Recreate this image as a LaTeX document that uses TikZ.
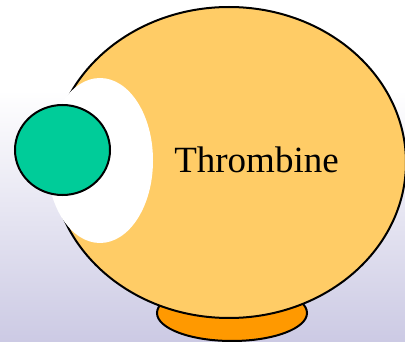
\documentclass[tikz,border=0pt]{standalone}
\usepackage{fontspec}
\setmainfont{Liberation Serif}
\usetikzlibrary{positioning}
\definecolor{bodyorange}{HTML}{FFCC66}
\definecolor{footorange}{HTML}{FF9900}
\definecolor{ligandgreen}{HTML}{00CC99}
\definecolor{bglavender}{HTML}{CCCAE4}

\begin{document}
\begin{tikzpicture}[
  x=1pt, y=-1pt,
  outline/.style = {draw=black, line width=2pt},
  label/.style   = {font=\fontsize{37}{44}\selectfont, anchor=base, inner sep=0pt},
]
  % background
  \fill[white] (0,0) rectangle (405,342);
  \shade[top color=white, bottom color=bglavender] (0,90) rectangle (405,342);
  \useasboundingbox (0,0) rectangle (405,342);
  % foot, body, pocket, ligand
  \filldraw[outline, fill=footorange] (232,313) ellipse [x radius=75, y radius=28];
  \filldraw[outline, fill=bodyorange] (229,162.5) ellipse [x radius=177, y radius=155.5];
  \fill[white] (100,160.5) ellipse [x radius=53, y radius=82.5];
  \filldraw[outline, fill=ligandgreen] (62.5,150) ellipse [x radius=47.5, y radius=45];
  \node[label] (thrombine) at (256.5,173) {Thrombine};
\end{tikzpicture}
\end{document}
